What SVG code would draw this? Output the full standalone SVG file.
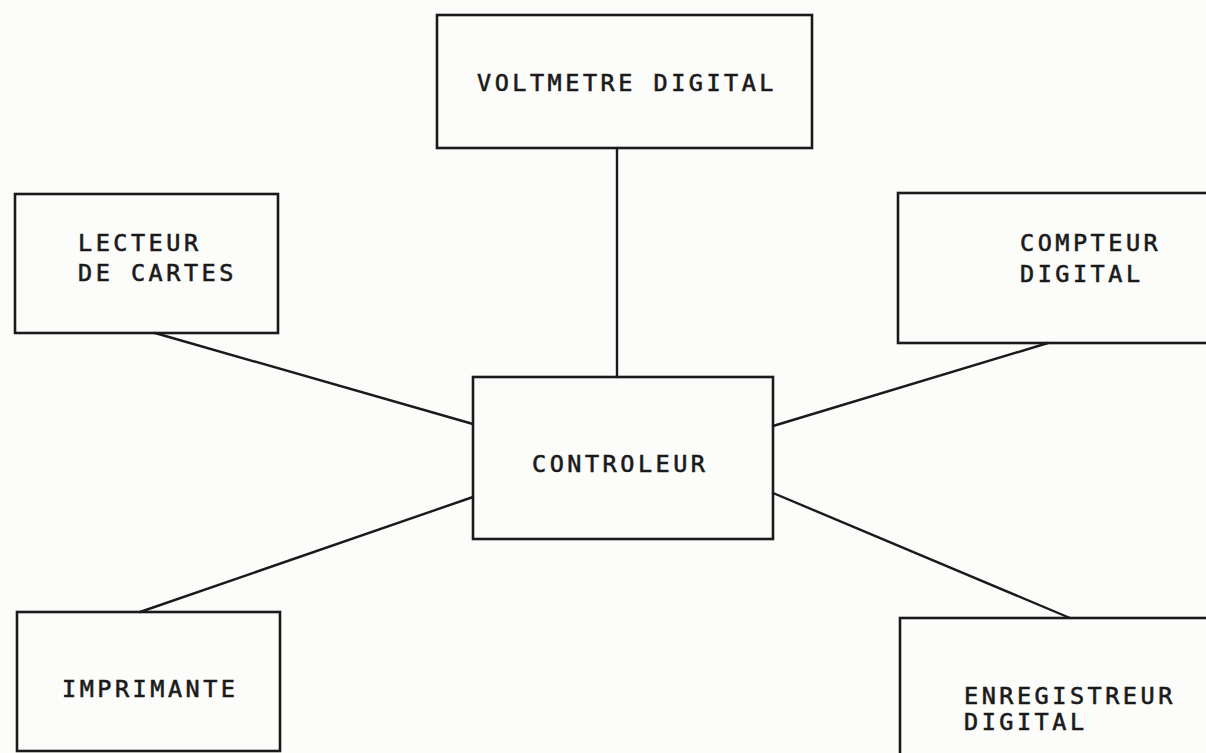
<svg xmlns="http://www.w3.org/2000/svg" width="1206" height="753" viewBox="0 0 1206 753">
  <style>
    .box { fill: none; stroke: #1a1a1a; stroke-width: 2.6; stroke-linejoin: miter; }
    .wire { fill: none; stroke: #1a1a1a; stroke-width: 2.4; stroke-linecap: round; }
    .lbl { font-family: "DejaVu Sans Mono", "Liberation Mono", monospace; font-size: 23.5px; letter-spacing: 3.5px; fill: #1a1a1a; stroke: #1a1a1a; stroke-width: 0.6; }
  </style>
  <rect x="0" y="0" width="1206" height="753" fill="#fcfcfb"/>

  <g id="connectors">
    <line class="wire" x1="617" y1="148" x2="617" y2="377"/>
    <line class="wire" x1="155" y1="333" x2="473" y2="424"/>
    <line class="wire" x1="1048" y1="343" x2="773" y2="426"/>
    <line class="wire" x1="140" y1="612" x2="473" y2="497"/>
    <line class="wire" x1="1070" y1="618" x2="773" y2="493"/>
  </g>

  <g id="voltmetre">
    <rect class="box" x="437" y="15" width="375" height="133"/>
    <text class="lbl" x="477" y="91">VOLTMETRE DIGITAL</text>
  </g>

  <g id="lecteur">
    <rect class="box" x="15" y="194" width="263" height="139"/>
    <text class="lbl" x="78" y="251">LECTEUR</text>
    <text class="lbl" x="78" y="281">DE CARTES</text>
  </g>

  <g id="compteur">
    <rect class="box" x="898" y="193" width="320" height="150"/>
    <text class="lbl" x="1020" y="251">COMPTEUR</text>
    <text class="lbl" x="1020" y="282">DIGITAL</text>
  </g>

  <g id="controleur">
    <rect class="box" x="473" y="377" width="300" height="162"/>
    <text class="lbl" x="532" y="472">CONTROLEUR</text>
  </g>

  <g id="imprimante">
    <rect class="box" x="17" y="612" width="263" height="139"/>
    <text class="lbl" x="62" y="697">IMPRIMANTE</text>
  </g>

  <g id="enregistreur">
    <rect class="box" x="900" y="618" width="320" height="150"/>
    <text class="lbl" x="964" y="704">ENREGISTREUR</text>
    <text class="lbl" x="964" y="730">DIGITAL</text>
  </g>
</svg>
